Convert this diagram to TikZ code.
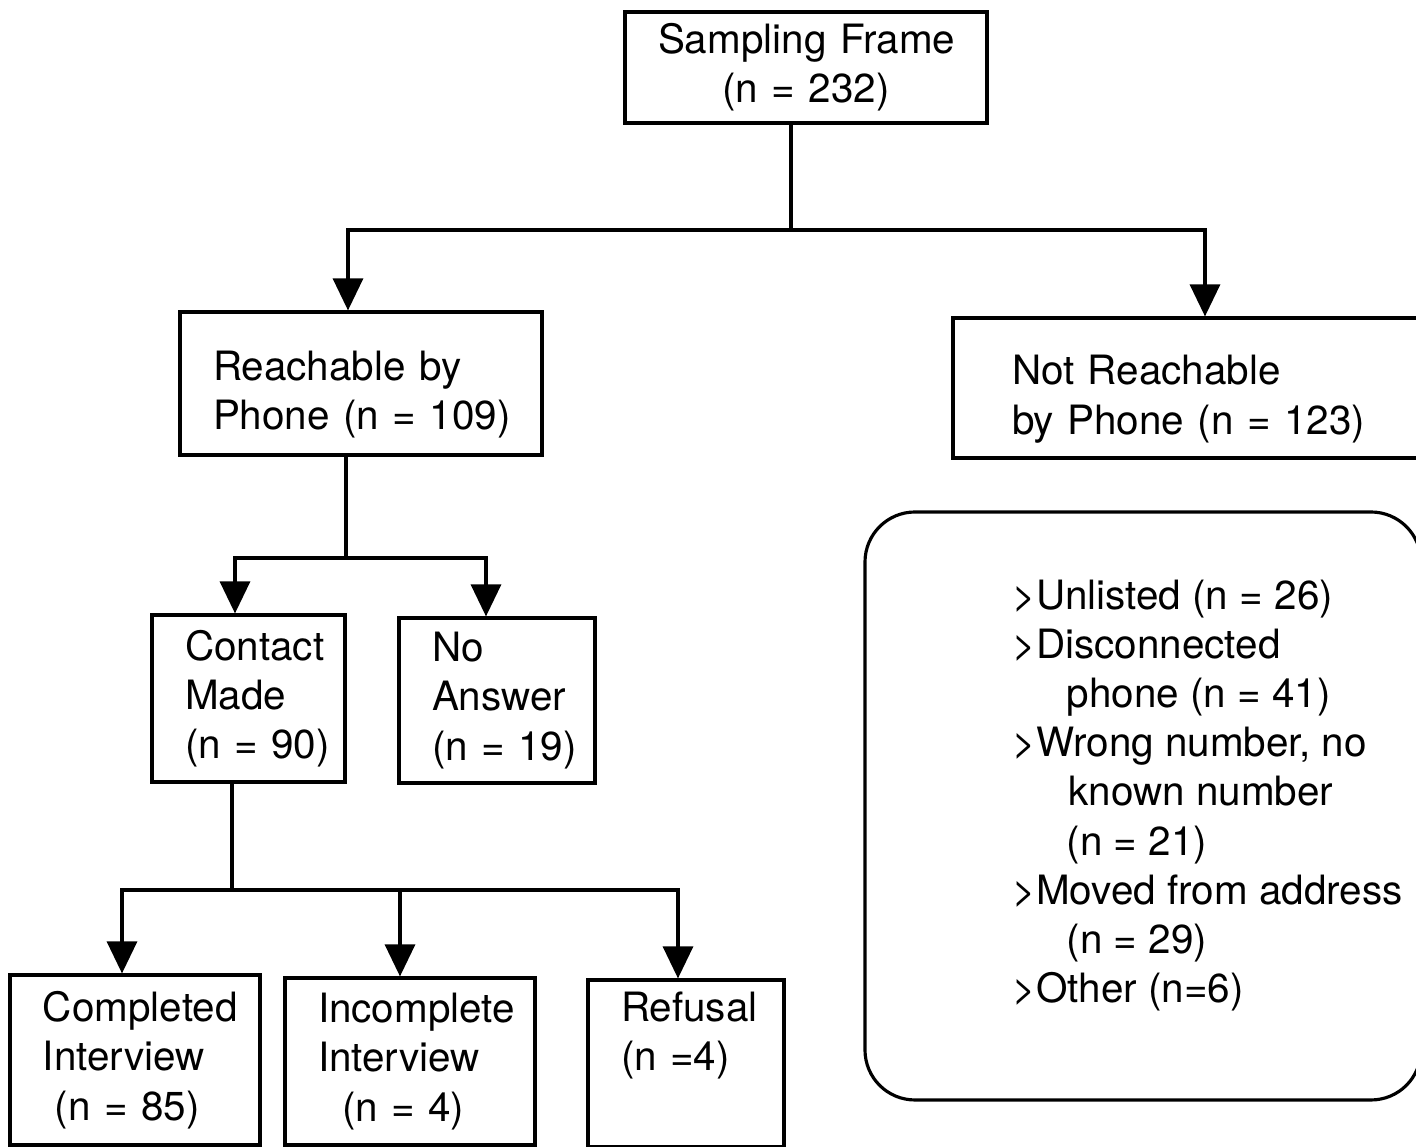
\documentclass[tikz,border=0pt]{standalone}
\usepackage{fontspec}
\setmainfont{TeX Gyre Heros}
\usetikzlibrary{arrows.meta}
\newcommand{\framey}{-2.30}
\newcommand{\reachy}{-5.58}
\newcommand{\contacty}{-8.90}
\newcommand{\boxfont}{\fontsize{11.5}{14}\selectfont}
\newcommand{\lowline}{\rule{0pt}{0.52cm}}
\tikzset{
  stage/.style={draw, line width=0.9pt, align=left, inner xsep=0.33cm,
    inner ysep=0pt, font=\boxfont},
  notebox/.style={draw, line width=0.9pt, rounded corners=0.5cm},
  notes/.style={align=left, inner sep=0pt, font=\boxfont},
  link/.style={line width=0.9pt},
  flow/.style={line width=0.9pt, -{Triangle[width=0.3cm,length=0.32cm]}},
}

\begin{document}
\begin{tikzpicture}
    \useasboundingbox (0,0) rectangle (14.16,-11.47);
    % sampling frame
    \node[stage, align=center, text width=2.96cm, minimum height=1.11cm]
      (frame) at (8.06,-0.675) {Sampling~Frame\\(n = 232)};
    % phone part
    \node[stage, text width=2.96cm, minimum height=1.43cm]
      (reach) at (3.61,-3.835) {\lowline Reachable~by\\Phone~(n~=~109)};
    \node[stage, inner xsep=0.59cm, text width=3.59cm, minimum height=1.40cm]
      (notreach) at (11.915,-3.88)
      {\lowline Not~Reachable\\by~Phone~(n~=~123)};
    % contact part
    \node[stage, text width=1.27cm, minimum height=1.67cm]
      (contact) at (2.485,-6.985) {Contact\\Made\\(n~=~90)};
    \node[stage, text width=1.30cm, minimum height=1.65cm]
      (noanswer) at (4.97,-7.005) {No\\Answer\\(n~=~19)};
    % interview part
    \node[stage, text width=1.84cm, minimum height=1.70cm]
      (completed) at (1.35,-10.60)
      {Completed\\Interview\\\hspace*{0.12cm}(n~=~85)};
    \node[stage, text width=1.84cm, minimum height=1.67cm]
      (incomplete) at (4.10,-10.615)
      {Incomplete\\Interview\\\hspace*{0.24cm}(n~=~4)};
    \node[stage, text width=1.30cm, minimum height=1.67cm]
      (refusal) at (6.86,-10.635) {Refusal\\(n~=4)\\\strut};
    % not reachable reasons
    \node[notebox, minimum width=5.56cm, minimum height=5.88cm]
      (reasons) at (11.43,-8.06) {};
    \node[notes, anchor=north west] (reasonlist) at (10.12,-5.79)
      {>Unlisted (n = 26)\\
       >Disconnected\\
       \hspace*{0.54cm}phone (n = 41)\\
       >Wrong number, no\\
       \hspace*{0.56cm}known number\\
       \hspace*{0.54cm}(n = 21)\\
       >Moved from address\\
       \hspace*{0.54cm}(n = 29)\\
       >Other (n=6)};
    % connectors
    \coordinate (split) at (7.91,\framey);
    \coordinate (splitl) at (3.48,\framey);
    \coordinate (splitr) at (12.05,\framey);
    \draw[link] (frame.south -| split) -- (split);
    \draw[flow] (split) -- (splitl) -- (splitl |- reach.north);
    \draw[flow] (split) -- (splitr) -- (splitr |- notreach.north);
    \coordinate (reachsplit) at (3.46,\reachy);
    \coordinate (reachl) at (2.35,\reachy);
    \coordinate (reachr) at (4.86,\reachy);
    \draw[link] (reach.south -| reachsplit) -- (reachsplit);
    \draw[flow] (reachsplit) -- (reachl) -- (reachl |- contact.north);
    \draw[flow] (reachsplit) -- (reachr) -- (reachr |- noanswer.north);
    \coordinate (contactsplit) at (2.32,\contacty);
    \coordinate (contactl) at (1.22,\contacty);
    \coordinate (contactm) at (4.00,\contacty);
    \coordinate (contactr) at (6.78,\contacty);
    \draw[link] (contact.south -| contactsplit) -- (contactsplit);
    \draw[flow] (contactsplit) -- (contactl) -- (contactl |- completed.north);
    \draw[flow] (contactm) -- (contactm |- incomplete.north);
    \draw[flow] (contactsplit) -- (contactr) -- (contactr |- refusal.north);
\end{tikzpicture}
\end{document}
